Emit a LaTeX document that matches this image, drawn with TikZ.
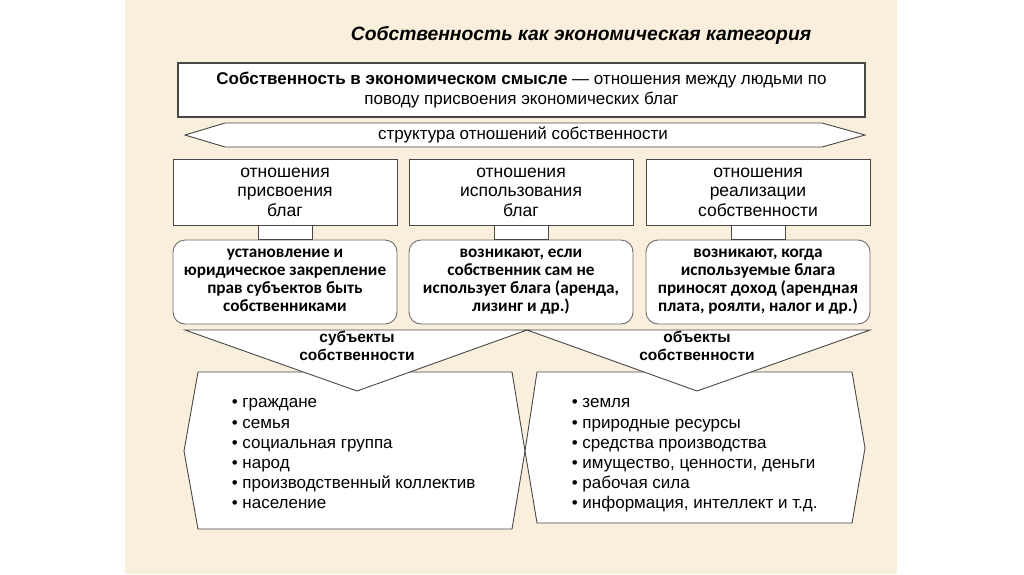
\documentclass[tikz,border=0pt]{standalone}
\usepackage{fontspec}
\setmainfont{Liberation Sans}
\newfontfamily\narrowfont{Carlito}
\usetikzlibrary{calc,positioning}
\definecolor{parchment}{RGB}{249,239,220}
\definecolor{edge}{RGB}{72,72,72}

\begin{document}
\begin{tikzpicture}[
  x=1pt, y=-1pt,
  line width=0.9pt,
  textfont/.style={font=\fontsize{17}{20.5}\selectfont},
  topbox/.style={draw=edge, line width=1.3pt, fill=white, minimum width=687pt, minimum height=54pt, align=center, textfont},
  relbox/.style={draw=edge, fill=white, minimum width=224pt, minimum height=66pt, align=center,
    font=\fontsize{17.5}{19.5}\selectfont, execute at begin node={\rule{0pt}{15.8pt}}},
  notebox/.style={draw=edge!80, fill=white, rounded corners=12pt, minimum width=224pt, minimum height=84pt, align=center,
    font=\narrowfont\bfseries\fontsize{17.2}{18}\selectfont,
    execute at begin node={\rule{0pt}{14pt}}, execute at end node={\rule[-4pt]{0pt}{4pt}}},
  link/.style={draw=edge, fill=white},
  outline/.style={draw=edge, fill=white, line join=miter},
  caption/.style={align=center, font=\bfseries\fontsize{15.5}{18}\selectfont},
  items/.style={align=left, anchor=north west, font=\fontsize{17}{20.2}\selectfont}
]

\fill[white] (0,0) rectangle (1024,574);
\fill[parchment] (125,0) rectangle (897,574);
\useasboundingbox (0,0) rectangle (1024,574);

\node[font=\fontsize{19.3}{24}\selectfont\bfseries\itshape] (title) at (581,35) {Собственность как экономическая категория};

\node[topbox] (meaning) at (521.5,90) {\textbf{Собственность в экономическом смысле} — отношения между людьми по\\поводу присвоения экономических благ};

\draw[outline] (185,135) -- (225,123) -- (822,123) -- (865,135) -- (822,147) -- (225,147) -- cycle;
\node[textfont] (structure) at (523,135) {структура отношений собственности};

\node[relbox] (appropriation) at (285,192) {отношения\\присвоения\\благ};
\node[relbox] (usage) at (521,192) {отношения\\использования\\благ};
\node[relbox] (realization) at (758,192) {отношения\\реализации\\собственности};

\node[notebox] (appropriationnote) at (285,282) {установление и\\юридическое закрепление\\прав субъектов быть\\собственниками};
\node[notebox] (usagenote) at (521,282) {возникают, если\\собственник сам не\\использует блага (аренда,\\лизинг и др.)};
\node[notebox] (realizationnote) at (758,282) {возникают, когда\\используемые блага\\приносят доход (арендная\\плата, роялти, налог и др.)};

\draw[link] ($(appropriation.south)+(-27,0)$) rectangle ($(appropriationnote.north)+(27,0)$);
\draw[link] ($(usage.south)+(-27,0)$) rectangle ($(usagenote.north)+(27,0)$);
\draw[link] ($(realization.south)+(-27,0)$) rectangle ($(realizationnote.north)+(27,0)$);

\draw[outline] (198,372) -- (512,372) -- (525,451) -- (512,529) -- (198,529) -- (184,451) -- cycle;
\draw[outline] (537,372) -- (852,372) -- (865,448) -- (852,523) -- (537,523) -- (525,451) -- cycle;

\draw[outline] (185,330) -- (527,330) -- (357,391) -- cycle;
\draw[outline] (527,330) -- (870,330) -- (697,391) -- cycle;

\node[caption] (subjects) at (357,346) {субъекты\\собственности};
\node[caption] (objects) at (697,346) {объекты\\собственности};

\node[items] (subjectlist) at (228,395) {• граждане\\• семья\\• социальная группа\\• народ\\• производственный коллектив\\• население};
\node[items] (objectlist) at (568,395) {• земля\\• природные ресурсы\\• средства производства\\• имущество, ценности, деньги\\• рабочая сила\\• информация, интеллект и т.д.};

\end{tikzpicture}
\end{document}
